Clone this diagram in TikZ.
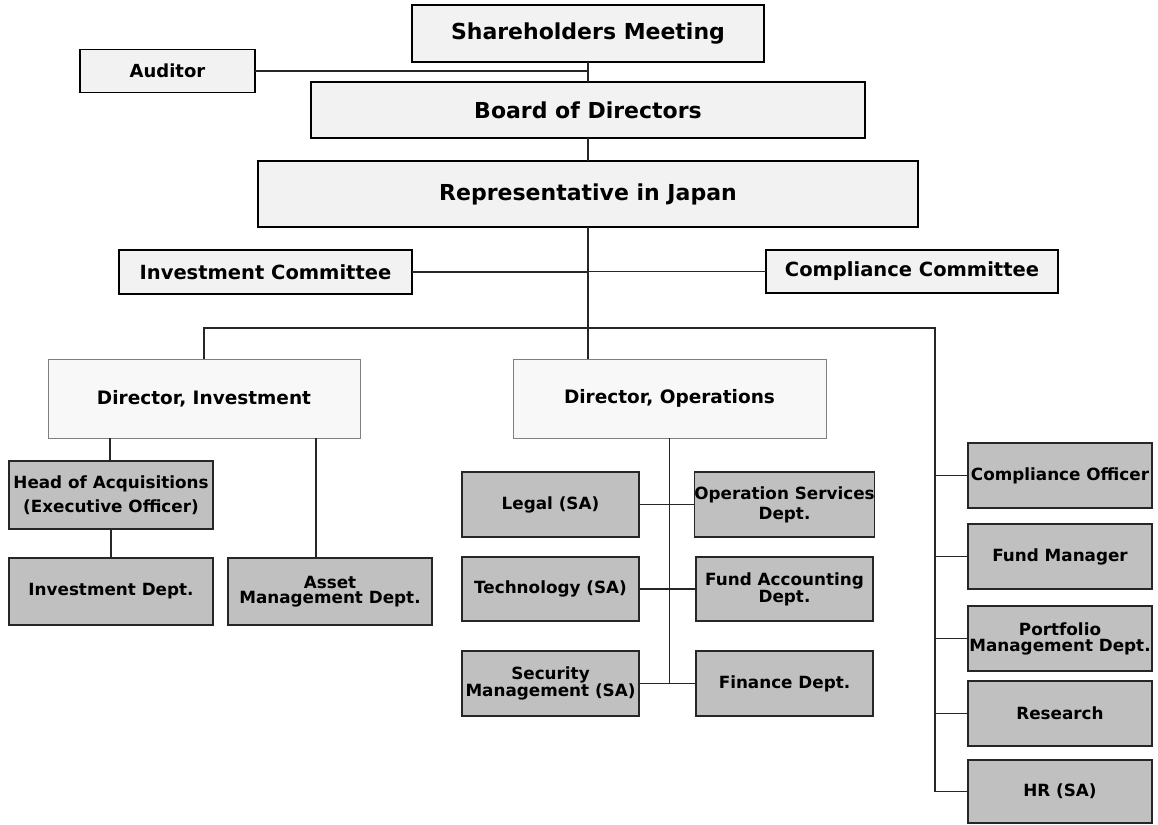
\documentclass[tikz,border=0pt]{standalone}
\usepackage{fontspec}
\setmainfont{DejaVu Sans}
\definecolor{topfill}{HTML}{F2F2F2}
\definecolor{grayfill}{HTML}{C0C0C0}
\definecolor{dirfill}{HTML}{F8F8F8}
\definecolor{dirline}{HTML}{7F7F7F}
\tikzset{
  topbox/.style={draw=black, line width=1.3pt, fill=topfill, inner sep=0pt, outer sep=0pt, align=center, font=\bfseries\fontsize{22}{25}\selectfont},
  midbox/.style={topbox, font=\bfseries\fontsize{19.5}{22}\selectfont},
  dirbox/.style={draw=dirline, line width=1pt, fill=dirfill, inner sep=0pt, outer sep=0pt, align=center, font=\bfseries\fontsize{18.5}{21}\selectfont},
  graybox/.style={draw=black!85, line width=1.3pt, fill=grayfill, inner sep=0pt, outer sep=0pt, align=center, font=\bfseries\fontsize{16.8}{15}\selectfont},
  conn/.style={draw=black!85, line width=1.2pt},
}
\begin{document}
\begin{tikzpicture}[x=1pt,y=-1pt]
\useasboundingbox[fill=white] (0,0) rectangle (1158,824);
% top level
\node[topbox, minimum width=352pt, minimum height=57pt] (sh) at (588,33.5) {Shareholders Meeting};
\node[midbox, minimum width=175pt, minimum height=43pt, font=\bfseries\fontsize{18}{21}\selectfont] (aud) at (167.5,71) {Auditor};
\node[topbox, minimum width=554pt, minimum height=56pt] (bod) at (588,110) {Board of Directors};
\node[topbox, minimum width=660pt, minimum height=66pt] (rep) at (588,194) {Representative in Japan};
\node[midbox, minimum width=293pt, minimum height=44pt] (ic) at (265.5,272) {Investment Committee};
\node[midbox, minimum width=292pt, minimum height=43pt] (cc) at (912,271.5) {Compliance Committee};
% directors
\node[dirbox, minimum width=312pt, minimum height=79pt] (dinv) at (204,398.5) {Director, Investment};
\node[dirbox, minimum width=313pt, minimum height=79pt] (dops) at (669.5,398.5) {Director, Operations};
% investment side
\node[graybox, minimum width=204pt, minimum height=68pt, font=\bfseries\fontsize{16.8}{24}\selectfont] (hoa) at (111,495) {Head of Acquisitions\\(Executive Officer)};
\node[graybox, minimum width=204pt, minimum height=67pt] (invd) at (111,591.5) {Investment Dept.};
\node[graybox, minimum width=204pt, minimum height=67pt] (asset) at (330,591.5) {Asset\\Management Dept.};
% operations side
\node[graybox, minimum width=177pt, minimum height=65pt] (legal) at (550.5,504.5) {Legal (SA)};
\node[graybox, minimum width=177pt, minimum height=65pt, font=\bfseries\fontsize{16.8}{20}\selectfont] (ops) at (784.5,504.5) {Operation Services\\Dept.};
\node[graybox, minimum width=177pt, minimum height=64pt] (tech) at (550.5,589) {Technology (SA)};
\node[graybox, minimum width=177pt, minimum height=64pt] (fac) at (784.5,589) {Fund Accounting\\Dept.};
\node[graybox, minimum width=177pt, minimum height=65pt, font=\bfseries\fontsize{16.8}{16}\selectfont] (sec) at (550.5,683.5) {Security\\Management (SA)};
\node[graybox, minimum width=177pt, minimum height=65pt] (fin) at (784.5,683.5) {Finance Dept.};
% right column
\node[graybox, minimum width=184pt, minimum height=65pt] (co) at (1060,475.5) {Compliance Officer};
\node[graybox, minimum width=184pt, minimum height=65pt] (fm) at (1060,556.5) {Fund Manager};
\node[graybox, minimum width=184pt, minimum height=65pt, font=\bfseries\fontsize{16.8}{16}\selectfont] (pm) at (1060,638.5) {Portfolio\\Management Dept.};
\node[graybox, minimum width=184pt, minimum height=65pt] (res) at (1060,713.5) {Research};
\node[graybox, minimum width=184pt, minimum height=63pt] (hr) at (1060,791.5) {HR (SA)};
% coordinates
\coordinate (rbar) at (935,328);
% connectors
\draw[conn] (sh.south) -- (bod.north);
\draw[conn] (aud.east) -- (aud.east -| sh.south);
\draw[conn] (bod.south) -- (rep.north);
\draw[conn] (rep.south) -- (rep.south |- dops.north);
\draw[conn] (ic.east) -- (ic.east -| rep.south);
\draw[conn] (cc.west) -- (cc.west -| rep.south);
\draw[conn] (dinv.north) |- (rbar) |- (hr.west);
\draw[conn] (co.west) -- (co.west -| rbar);
\draw[conn] (fm.west) -- (fm.west -| rbar);
\draw[conn] (pm.west) -- (pm.west -| rbar);
\draw[conn] (res.west) -- (res.west -| rbar);
\draw[conn] ([xshift=-1pt]hoa.north) -- ([xshift=-1pt]hoa.north |- dinv.south);
\draw[conn] (hoa.south) -- (invd.north);
\draw[conn] ([xshift=-14pt]asset.north) -- ([xshift=-14pt]asset.north |- dinv.south);
\draw[conn] (dops.south) -- (dops.south |- sec.east);
\draw[conn] (legal.east) -- (ops.west);
\draw[conn] (tech.east) -- (fac.west);
\draw[conn] (sec.east) -- (fin.west);
\end{tikzpicture}
\end{document}
